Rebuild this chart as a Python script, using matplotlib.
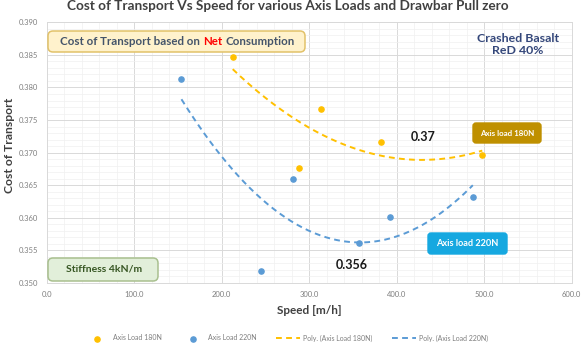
import numpy as np
import matplotlib.pyplot as plt
from matplotlib.patches import FancyBboxPatch
from matplotlib.transforms import IdentityTransform
from matplotlib.ticker import MultipleLocator, AutoMinorLocator, FormatStrFormatter

plt.rcParams['font.family'] = ['Lato', 'DejaVu Sans']

# data
speed_180 = [212.6, 288.0, 313.5, 382.0, 497.8]
cot_180 = [0.3847, 0.3677, 0.3767, 0.3716, 0.3696]
speed_220 = [154.0, 245.0, 281.0, 357.0, 392.7, 487.0]
cot_220 = [0.3813, 0.3518, 0.3660, 0.3561, 0.3602, 0.3632]

yellow = '#FFC000'
blue = '#5B9BD5'

W, H = 583, 347
fig = plt.figure(figsize=(W / 100, H / 100), dpi=100)
ax = fig.add_axes([0.0801, 0.1844, 0.9005, 0.7513])
pix = IdentityTransform()

ax.scatter(speed_180, cot_180, s=14, color=yellow, zorder=3, label='Axis Load 180N')
ax.scatter(speed_220, cot_220, s=14, color=blue, zorder=3, label='Axis Load 220N')

# 2nd order trend lines (Excel "Poly.")
for xs, ys, c, name in [(speed_180, cot_180, yellow, 'Poly. (Axis Load 180N)'),
                        (speed_220, cot_220, blue, 'Poly. (Axis Load 220N)')]:
    p = np.polyfit(xs, ys, 2)
    xx = np.linspace(min(xs), max(xs), 200)
    ax.plot(xx, np.polyval(p, xx), color=c, lw=1.4, ls=(0, (3, 2.2)), label=name, zorder=2)

ax.set_xlim(0, 600)
ax.set_ylim(0.350, 0.390)
ax.xaxis.set_major_locator(MultipleLocator(100))
ax.yaxis.set_major_locator(MultipleLocator(0.005))
ax.xaxis.set_minor_locator(AutoMinorLocator(5))
ax.yaxis.set_minor_locator(AutoMinorLocator(5))
ax.xaxis.set_major_formatter(FormatStrFormatter('%.1f'))
ax.yaxis.set_major_formatter(FormatStrFormatter('%.3f'))
ax.grid(which='major', color='#D9D9D9', lw=0.7)
ax.grid(which='minor', color='#F0F0F0', lw=0.5)
ax.set_axisbelow(True)
ax.tick_params(which='both', length=0, labelsize=5.5, colors='#7F7F7F', pad=6)
for s in ax.spines.values():
    s.set_color('#D9D9D9')
    s.set_linewidth(0.7)

ax.set_xlabel('Speed [m/h]', fontsize=8.5, fontweight='bold', color='#404040', labelpad=5)
ax.set_ylabel('Cost of Transport', fontsize=8.7, fontweight='bold', color='#404040')
ax.yaxis.set_label_coords(-0.0604, 0.529)
fig.text(288 / W, 0.983, 'Cost of Transport Vs Speed for various Axis Loads and Drawbar Pull zero',
         ha='center', va='center', fontsize=9.8, fontweight='bold', color='#404040')


def pbox(x0, x1, y0, y1, fc, ec, lw=1.0, r=4):
    # rounded box given in picture pixels (top-left origin)
    ax.add_artist(FancyBboxPatch((x0, H - y1), x1 - x0, y1 - y0, transform=pix,
                                 boxstyle='round,pad=0,rounding_size=%g' % r,
                                 fc=fc, ec=ec, lw=lw, zorder=4, clip_on=False))


def ptext(x, y, s, **kw):
    return ax.text(x, H - y, s, transform=pix, zorder=5, fontweight='bold', **kw)


# "Cost of Transport based on Net Consumption"
pbox(48, 305, 31, 52, '#FFF2CC', '#E2C26A', lw=1.1, r=5)
fs_net = 8.3
t1 = ptext(60, 41.5, 'Cost of Transport based on', ha='left', va='center', fontsize=fs_net, color='#44546A')
t2 = ax.annotate('Net', xy=(1, 0), xycoords=t1, xytext=(2.3, 0), textcoords='offset points',
                 ha='left', va='bottom', color='#FF0000', fontsize=fs_net, fontweight='bold', zorder=5)
ax.annotate('Consumption', xy=(1, 0), xycoords=t2, xytext=(2.3, 0), textcoords='offset points',
            ha='left', va='bottom', color='#44546A', fontsize=fs_net, fontweight='bold', zorder=5)

ptext(518, 44.6, 'Crashed Basalt\nReD 40%', ha='center', va='center', fontsize=8.9,
      color='#34477A', linespacing=1.2)
ptext(423.5, 137, '0.37', ha='center', va='center', fontsize=9, color='#1A1A1A')
ptext(351.5, 265, '0.356', ha='center', va='center', fontsize=9, color='#1A1A1A')

pbox(473, 541, 123, 143, '#BF9000', '#BF9000', r=3)
ptext(507, 133, 'Axis load 180N', ha='center', va='center', fontsize=5.8, color='white')
pbox(428, 507, 233, 254, '#16A8E0', '#16A8E0', r=3)
ptext(467.5, 243.7, 'Axis load 220N', ha='center', va='center', fontsize=6.6, color='white')

pbox(48, 158, 258, 281, '#E2EFDA', '#A9C08F', lw=1.1, r=5)
ptext(104.5, 269.5, 'Stiffness 4kN/m', ha='center', va='center', fontsize=7.5, color='#375623')

fig.legend(loc='center', bbox_to_anchor=(0.492, 0.026), ncol=4, frameon=False, fontsize=5,
           labelcolor='#7F7F7F', handlelength=3.4, columnspacing=2.8, handletextpad=0.5,
           scatterpoints=1)

fig.savefig('out.png', dpi=100)
